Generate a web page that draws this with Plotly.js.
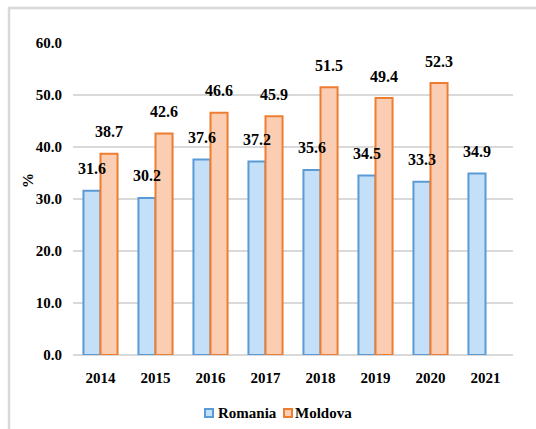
<!DOCTYPE html>
<html>
<head>
<meta charset="utf-8">
<script src="https://cdn.plot.ly/plotly-3.0.1.min.js"></script>
<style>
  html, body { margin: 0; padding: 0; background: #fff; }
  #chart { width: 536px; height: 429px; }
</style>
</head>
<body>
<div id="chart"></div>
<script>
// values
const years = ['2014', '2015', '2016', '2017', '2018', '2019', '2020', '2021'];
const romania = [31.6, 30.2, 37.6, 37.2, 35.6, 34.5, 33.3, 34.9];
const moldova = [38.7, 42.6, 46.6, 45.9, 51.5, 49.4, 52.3, null];
const yTicks = [0, 10, 20, 30, 40, 50, 60];

const serif = 'Liberation Serif';
const M = { l: 73, r: 23, t: 43, b: 74 };
const W = 536, H = 429;
// pixel -> paper helpers, for the frame and the legend
const px = v => (v - M.l) / (W - M.l - M.r);
const py = v => (H - M.b - v) / (H - M.t - M.b);

const colors = {
    Romania: { fill: '#c4dff8', line: '#5b9bd5' },
    Moldova: { fill: '#fbcdb3', line: '#ed7d31' }
};

const traces = [
    {
        type: 'bar', name: 'Romania', x: years, y: romania,
        marker: { color: colors.Romania.fill, line: { color: colors.Romania.line, width: 2 } },
        hoverinfo: 'skip'
    },
    {
        type: 'bar', name: 'Moldova', x: years, y: moldova,
        marker: { color: colors.Moldova.fill, line: { color: colors.Moldova.line, width: 2 } },
        hoverinfo: 'skip'
    }
];

// value labels sit well above the bar tops (x given as category index)
const labels = [];
function addLabels(vals, shift) {
    vals.forEach((v, i) => {
        if (v == null) return;
        labels.push({
            x: i, y: v, xref: 'x', yref: 'y',
            text: '<b>' + v.toFixed(1) + '</b>', showarrow: false,
            xshift: shift, yshift: 22, yanchor: 'middle',
            font: { family: serif, size: 16, color: '#000' }
        });
    });
}
addLabels(romania, -8.5);
addLabels(moldova, 8.5);

labels.push({
    x: px(28), y: py(181), xref: 'paper', yref: 'paper', text: '<b>%</b>', showarrow: false,
    xanchor: 'center', yanchor: 'middle', textangle: -90,
    font: { family: serif, size: 15, color: '#000' }
});

// legend drawn by hand, tight like the original
const shapes = [
    { type: 'rect', xref: 'paper', yref: 'paper', x0: px(9), x1: px(545), y0: py(445), y1: py(8),
      line: { color: '#d9d9d9', width: 2.5 }, fillcolor: 'rgba(0,0,0,0)', layer: 'below' }
];
const legendItems = [['Romania', 205, 216], ['Moldova', 284, 293]];
legendItems.forEach(([name, sx, tx]) => {
    shapes.push({
        type: 'rect', xref: 'paper', yref: 'paper',
        x0: px(sx), x1: px(sx + 8), y0: py(417), y1: py(409),
        fillcolor: colors[name].fill, line: { color: colors[name].line, width: 2 }
    });
    labels.push({
        x: px(tx), y: py(413), xref: 'paper', yref: 'paper', text: '<b>' + name + '</b>', showarrow: false,
        xanchor: 'left', yanchor: 'middle',
        font: { family: serif, size: 15, color: '#000' }
    });
});

const layout = {
    width: W, height: H,
    margin: Object.assign({ autoexpand: false }, M),
    paper_bgcolor: '#fff', plot_bgcolor: '#fff',
    barmode: 'group', bargap: 0.38, bargroupgap: 0,
    font: { family: serif, size: 15, color: '#000' },
    xaxis: {
        type: 'category', range: [-0.5, years.length - 0.5],
        showgrid: false, showline: false, ticks: '', ticklabelstandoff: 12,
        tickprefix: '<b>', ticksuffix: '</b>',
        tickfont: { family: serif, size: 15, color: '#000' }
    },
    yaxis: {
        range: [0, 60], tickvals: yTicks, ticktext: yTicks.map(v => '<b>' + v.toFixed(1) + '</b>'),
        showgrid: true, gridcolor: '#d9d9d9', gridwidth: 1.3,
        zeroline: true, zerolinecolor: '#d9d9d9', zerolinewidth: 1.5,
        ticks: '', ticklabelstandoff: 10,
        tickfont: { family: serif, size: 15, color: '#000' }
    },
    showlegend: false,
    annotations: labels,
    shapes: shapes
};

Plotly.newPlot('chart', traces, layout, { displayModeBar: false, staticPlot: true });
</script>
</body>
</html>
